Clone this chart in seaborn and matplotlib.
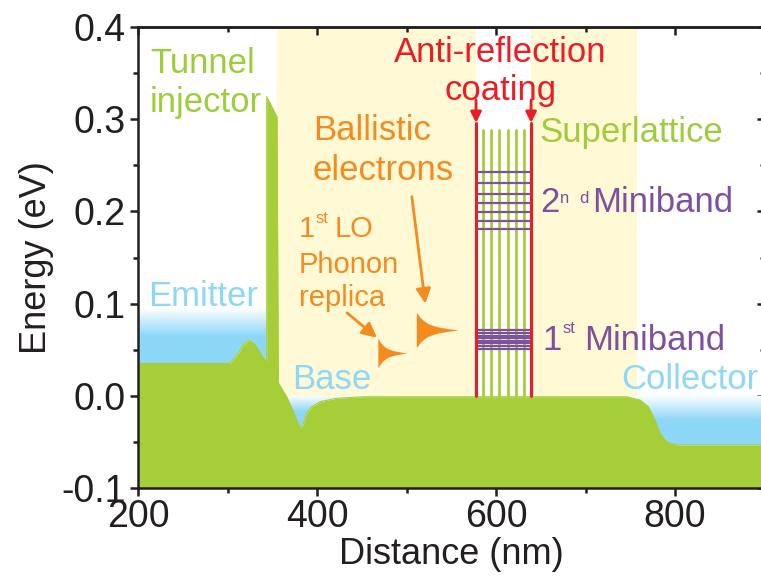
import numpy as np
import matplotlib.pyplot as plt
import seaborn as sns
from matplotlib.colors import LinearSegmentedColormap
from matplotlib.ticker import MultipleLocator

# conduction band edge (nm, eV)
band_x = [200, 303, 312, 318, 324, 329, 333, 337, 340, 342, 343.8, 355.3, 356.8,
          366.1, 373.5, 381, 384.7, 388.5, 394, 403.4, 422, 451.7, 600, 746,
          760.9, 770.2, 777.6, 783.2, 790.7, 801.9, 900]
band_e = [0.035, 0.035, 0.046, 0.056, 0.060, 0.057, 0.053, 0.046, 0.041, 0.039, 0.037,
          0.3026, 0.014, -0.001, -0.017, -0.0353, -0.030, -0.019, -0.012, -0.0064,
          -0.0027, -0.001, -0.001, -0.001, -0.0046, -0.0118, -0.026, -0.0407,
          -0.0498, -0.0534, -0.0534]
barrier_top_left = 0.3244

# shaded (yellow) regions, nm
yellow_spans = [(355.3, 577.7), (639.2, 757)]

# superlattice
ar_x = [577.7, 639.2]                       # anti-reflection layers
well_x = [585.9, 594.4, 603.7, 613.1, 622.3, 631.3]
miniband1_e = [0.0714, 0.0678, 0.0651, 0.0623, 0.0594, 0.0569, 0.0540, 0.0508]
miniband2_e = [0.2424, 0.2311, 0.2185, 0.2088, 0.1990, 0.1896, 0.1806]

# electron distributions: energy offset (eV) and length (nm)
ballistic_de = [-0.019, -0.0172, -0.015, -0.0125, -0.0098, -0.0072, -0.005, -0.0032, -0.0015, 0.0,
                0.0015, 0.0032, 0.005, 0.0072, 0.0098, 0.0125, 0.015, 0.0172, 0.019]
ballistic_len = [0, 1.5, 3.2, 5.5, 8.5, 12.5, 18, 25, 35, 47,
                 35, 25, 18, 12.5, 8.5, 5.5, 3.2, 1.5, 0]
replica_de = [-0.016, -0.0145, -0.0126, -0.0105, -0.0083, -0.0061, -0.0042, -0.0027, -0.0013, 0.0,
              0.0013, 0.0027, 0.0042, 0.0061, 0.0083, 0.0105, 0.0126, 0.0145, 0.016]
replica_len = [0, 1.0, 2.2, 3.8, 5.8, 8.5, 12.3, 17, 24, 32,
               24, 17, 12.3, 8.5, 5.8, 3.8, 2.2, 1.0, 0]
ballistic_pos = (511, 0.0714)
replica_pos = (468, 0.0464)

x_ticks = [200, 400, 600, 800]
y_ticks = [-0.1, 0.0, 0.1, 0.2, 0.3, 0.4]
y_ticklabels = ['-0.1', '0.0', '0.1', '0.2', '0.3', '0.4']

GREEN = '#A6CE39'
GREEN_TXT = '#9FCC3B'
BLUE = '#8DD7F7'
ORANGE = '#F58A1F'
RED = '#ED1C24'
PURPLE = '#7E51A0'
YELLOW = '#FFF9D6'
INK = '#231F20'

sns.set_theme(style='ticks')
plt.rcParams['font.family'] = ['Liberation Sans', 'DejaVu Sans']

fig = plt.figure(figsize=(7.61, 5.81), dpi=100)
ax = fig.add_axes([138 / 761, 1 - 488 / 581, (764.5 - 138) / 761, (488 - 27) / 581])

bx = np.array(band_x)
be = np.array(band_e)
blue_cmap = LinearSegmentedColormap.from_list('b', [BLUE, BLUE, 'white'])


def gradient_region(mask, top, e_blue, e_white):
    poly = ax.fill_between(bx[mask], be[mask], top, color='none', lw=0)
    grad = np.linspace(0, 1, 256).reshape(-1, 1)
    im = ax.imshow(grad, cmap=blue_cmap, origin='lower', aspect='auto',
                   extent=[bx[mask].min(), bx[mask].max(), e_blue, e_white], zorder=1)
    im.set_clip_path(poly.get_paths()[0], transform=ax.transData)


# yellow background
for x0, x1 in yellow_spans:
    ax.fill_between([x0, x1], 0.0, 0.4, color=YELLOW, lw=0, zorder=0)

# electron reservoirs
gradient_region(bx <= 343.8, 0.095, 0.035, 0.095)
gradient_region((bx >= 356.8) & (bx <= 451.7), 0.0, -0.0353, 0.0)
gradient_region(bx >= 746, 0.0, -0.0534, 0.0)

# band edge with the tunnel barrier top
fx = list(band_x[:11]) + [343.8] + list(band_x[11:])
fe = list(band_e[:11]) + [barrier_top_left] + list(band_e[11:])
ax.fill_between(fx, -0.1, fe, color=GREEN, lw=0, zorder=2)
sns.lineplot(x=fx, y=fe, sort=False, estimator=None, color=GREEN, lw=0.8, ax=ax, zorder=2)

# superlattice
for x in well_x:
    ax.plot([x, x], [0.0, 0.288], color=GREEN, lw=2, zorder=3)
for e in miniband2_e + miniband1_e:
    ax.plot([ar_x[0], ar_x[1]], [e, e], color=PURPLE, lw=1.6, zorder=4)
for x in ar_x:
    ax.plot([x, x], [0.0, 0.296], color=RED, lw=2.2, zorder=5)

# electron distributions
for (x0, e0), de, ln in [(ballistic_pos, ballistic_de, ballistic_len),
                         (replica_pos, replica_de, replica_len)]:
    ee = e0 + np.array(de)
    ax.fill_betweenx(ee, x0, x0 + np.array(ln), color=ORANGE, lw=0, zorder=5)

# arrows
for x in ar_x:
    ax.annotate('', xy=(x, 0.296), xytext=(x, 0.321),
                arrowprops=dict(arrowstyle='-|>', color=RED, lw=2, mutation_scale=16,
                                shrinkA=0, shrinkB=0), zorder=6)
ax.annotate('', xy=(521, 0.100), xytext=(506, 0.216),
            arrowprops=dict(arrowstyle='-|>', color=ORANGE, lw=2, mutation_scale=22,
                            shrinkA=0, shrinkB=0), zorder=6)
ax.annotate('', xy=(467, 0.063), xytext=(433.5, 0.090),
            arrowprops=dict(arrowstyle='-|>', color=ORANGE, lw=2, mutation_scale=22,
                            shrinkA=0, shrinkB=0), zorder=6)

# labels
big = 25
kw = dict(ha='left', va='baseline', zorder=7)
ax.text(213.4, 0.350, 'Tunnel', color=GREEN_TXT, fontsize=big, **kw)
ax.text(213.4, 0.308, 'injector', color=GREEN_TXT, fontsize=big, **kw)
ax.text(211, 0.0974, 'Emitter', color=BLUE, fontsize=big, **kw)
ax.text(372, 0.0074, 'Base', color=BLUE, fontsize=big, **kw)
ax.text(739.7, 0.0074, 'Collector', color=BLUE, fontsize=big, **kw)
ax.text(395.5, 0.2774, 'Ballistic', color=ORANGE, fontsize=big, **kw)
ax.text(395.5, 0.234, 'electrons', color=ORANGE, fontsize=big, **kw)
ax.text(379.9, 0.172, '1', color=ORANGE, fontsize=21, **kw)
ax.text(398.5, 0.1874, 'st', color=ORANGE, fontsize=12, **kw)
ax.text(420.1, 0.172, 'LO', color=ORANGE, fontsize=21, **kw)
ax.text(379.9, 0.1336, 'Phonon', color=ORANGE, fontsize=21, **kw)
ax.text(379.9, 0.097, 'replica', color=ORANGE, fontsize=21, **kw)
ax.text(605, 0.362, 'Anti-reflection', color=RED, fontsize=big, ha='center', va='baseline')
ax.text(605, 0.321, 'coating', color=RED, fontsize=big, ha='center', va='baseline')
ax.text(649, 0.275, 'Superlattice', color=GREEN_TXT, fontsize=big, **kw)
ax.text(649.2, 0.1993, '2', color=PURPLE, fontsize=big, **kw)
ax.text(671.5, 0.2095, 'n', color=PURPLE, fontsize=12, **kw)
ax.text(692.7, 0.2095, 'd', color=PURPLE, fontsize=12, **kw)
ax.text(707.3, 0.1993, 'Miniband', color=PURPLE, fontsize=big, **kw)
ax.text(651.4, 0.0497, '1', color=PURPLE, fontsize=big, **kw)
ax.text(674, 0.0681, 'st', color=PURPLE, fontsize=12, **kw)
ax.text(698.3, 0.0497, 'Miniband', color=PURPLE, fontsize=big, **kw)

# axes
ax.set_xlim(200, 900)
ax.set_ylim(-0.1, 0.4)
ax.set_xticks(x_ticks)
ax.set_yticks(y_ticks)
ax.set_yticklabels(y_ticklabels)
ax.xaxis.set_minor_locator(MultipleLocator(100))
ax.yaxis.set_minor_locator(MultipleLocator(0.05))
ax.tick_params(which='both', direction='out', width=1.8, color=INK, labelcolor=INK,
               labelsize=27, top=False, right=False)
ax.tick_params(which='major', length=6)
ax.tick_params(which='minor', length=3.5)
ax.tick_params(axis='y', pad=3)
ax.tick_params(axis='x', pad=2)
for s in ax.spines.values():
    s.set_visible(True)
    s.set_linewidth(1.8)
    s.set_color(INK)
    s.set_zorder(10)

top = ax.secondary_xaxis('top')
top.set_xticks(x_ticks)
top.xaxis.set_minor_locator(MultipleLocator(100))
top.tick_params(which='both', direction='in', width=1.8, color=INK, labeltop=False)
top.tick_params(which='major', length=6)
top.tick_params(which='minor', length=3.5)
top.spines['top'].set_linewidth(1.8)
right = ax.secondary_yaxis('right')
right.set_yticks(y_ticks)
right.yaxis.set_minor_locator(MultipleLocator(0.05))
right.tick_params(which='both', direction='in', width=1.8, color=INK, labelright=False)
right.tick_params(which='major', length=6)
right.tick_params(which='minor', length=3.5)

ax.set_xlabel('Distance (nm)', fontsize=26, color=INK, labelpad=1)
ax.set_ylabel('Energy (eV)', fontsize=26, color=INK, labelpad=5)

fig.savefig('out.png', dpi=100)
